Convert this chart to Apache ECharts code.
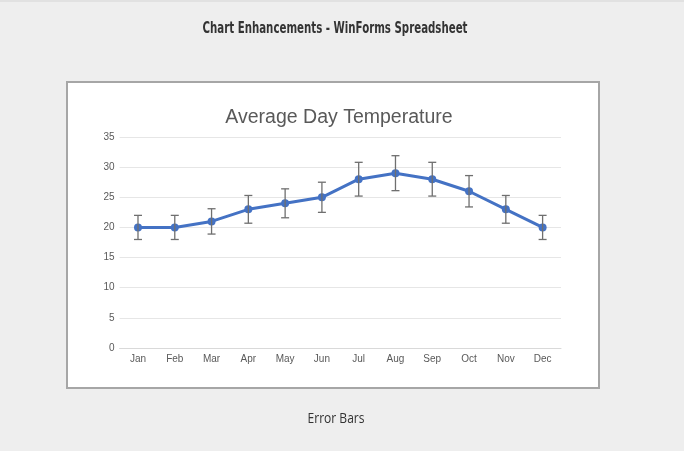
<!DOCTYPE html>
<html>
<head>
<meta charset="utf-8">
<script src="https://cdn.jsdelivr.net/npm/echarts@6/dist/echarts.min.js"></script>
<style>
html,body{margin:0;padding:0;background:#eeeeee;}
#c{width:684px;height:451px;}
</style>
</head>
<body>
<div id="c"></div>
<script>
// ---- data ----
var months = ['Jan','Feb','Mar','Apr','May','Jun','Jul','Aug','Sep','Oct','Nov','Dec'];
var temps = [20, 20, 21, 23, 24, 25, 28, 29, 28, 26, 23, 20];
var errors = [2, 2, 2.1, 2.3, 2.4, 2.5, 2.8, 2.9, 2.8, 2.6, 2.3, 2];
var yTicks = [0, 5, 10, 15, 20, 25, 30, 35];
var pageTitle = 'Chart Enhancements - WinForms Spreadsheet';
var chartTitle = 'Average Day Temperature';
var caption = 'Error Bars';

var errData = months.map(function (m, i) {
  return [i, temps[i] - errors[i], temps[i] + errors[i]];
});

var chart = echarts.init(document.getElementById('c'), null, {renderer: 'canvas'});
chart.setOption({
  backgroundColor: '#eeeeee',
  animation: false,
  graphic: [
    {type: 'rect', silent: true, z: -10,
     shape: {x: 0, y: 0.5, width: 684, height: 1},
     style: {fill: '#d4d4d4'}},
    {type: 'rect', silent: true, z: -10,
     shape: {x: 67, y: 82, width: 532, height: 306},
     style: {fill: '#ffffff', stroke: '#a6a6a6', lineWidth: 2}},
    {type: 'text', silent: true, x: 335, y: 28.5, scaleX: 0.71,
     style: {text: pageTitle, x: 0, y: 0, textAlign: 'center', textVerticalAlign: 'middle', align: 'center', verticalAlign: 'middle',
             font: 'bold 16px "DejaVu Sans Condensed", sans-serif', fill: '#333333'}},
    {type: 'text', silent: true, x: 336, y: 418.7, scaleX: 0.86,
     style: {text: caption, x: 0, y: 0, textAlign: 'center', textVerticalAlign: 'middle', align: 'center', verticalAlign: 'middle',
             font: '14px "Open Sans", sans-serif', fill: '#333333'}}
  ],
  title: [
    {text: chartTitle, left: 334, textAlign: 'center', top: 103,
     textStyle: {fontFamily: '"Liberation Sans",Arial,sans-serif', fontWeight: 'normal', fontSize: 19.5, color: '#595959'}}
  ],
  grid: {left: 119.6, right: 123, top: 137, bottom: 103, containLabel: false},
  xAxis: {
    type: 'category', data: months, boundaryGap: true,
    axisLine: {show: true, lineStyle: {color: '#d9d9d9', width: 1}},
    axisTick: {show: false},
    axisLabel: {color: '#595959', fontSize: 10, margin: 6, fontFamily: '"Liberation Sans",Arial,sans-serif'}
  },
  yAxis: {
    type: 'value', min: yTicks[0], max: yTicks[yTicks.length - 1], interval: 5,
    axisLine: {show: false}, axisTick: {show: false},
    splitLine: {lineStyle: {color: '#e6e6e6', width: 1}},
    axisLabel: {color: '#595959', fontSize: 10, margin: 5, fontFamily: '"Liberation Sans",Arial,sans-serif'}
  },
  series: [
    {
      type: 'line', data: temps, symbol: 'circle', symbolSize: 8,
      lineStyle: {color: '#4472c4', width: 3},
      itemStyle: {color: '#4472c4'}, z: 2
    },
    {
      type: 'custom', data: errData, z: 3,
      encode: {x: 0, y: [1, 2]},
      renderItem: function (params, api) {
        var i = api.value(0);
        var lo = api.coord([i, api.value(1)]);
        var hi = api.coord([i, api.value(2)]);
        var hw = 4;
        var st = {stroke: '#6f6f6f', lineWidth: 1.3};
        return {type: 'group', children: [
          {type: 'line', shape: {x1: hi[0], y1: hi[1], x2: lo[0], y2: lo[1]}, style: st},
          {type: 'line', shape: {x1: hi[0] - hw, y1: hi[1], x2: hi[0] + hw, y2: hi[1]}, style: st},
          {type: 'line', shape: {x1: lo[0] - hw, y1: lo[1], x2: lo[0] + hw, y2: lo[1]}, style: st}
        ]};
      }
    }
  ]
});
</script>
</body>
</html>
